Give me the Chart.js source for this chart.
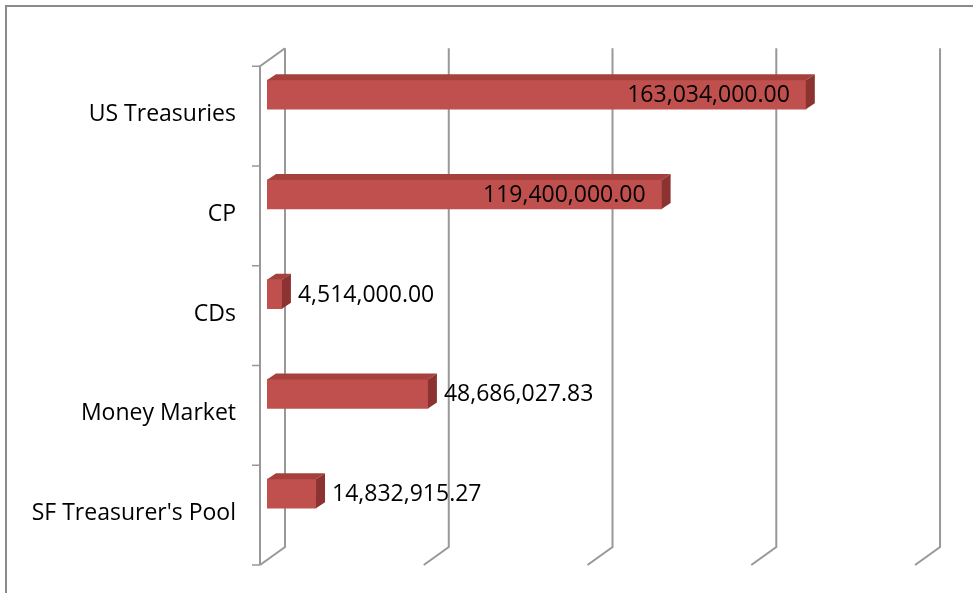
<!DOCTYPE html>
<html>
<head>
<meta charset="utf-8">
<script src="https://cdn.jsdelivr.net/npm/chart.js@4.4.0/dist/chart.umd.min.js"></script>
<style>
  body { margin: 0; background: #fff; overflow: hidden; }
  #frame { position: absolute; left: 5px; top: 5px; width: 1100px; height: 800px;
           border-left: 2px solid #8a8a8a; border-top: 2px solid #8a8a8a; }
  #chart { position: absolute; left: 0; top: 0; }
</style>
</head>
<body>
<div id="frame"></div>
<canvas id="chart" width="973" height="593"></canvas>
<script>
const categories = ["US Treasuries", "CP", "CDs", "Money Market", "SF Treasurer's Pool"];
const holdings = [163034000, 119400000, 4514000, 48686027.83, 14832915.27];
const gridValues = [0, 50000000, 100000000, 150000000, 200000000];

// 3D look, roughly what Excel does
const DEPTH_X = 25, DEPTH_Y = 18;   // front plane -> back wall
const BAR_DX = 9, BAR_DY = 6;       // bar depth
const FRONT_SHIFT = 21.5;           // category bands on the front plane vs bars
const FONT = "'Open Sans', Lato, sans-serif";

const fmt = v => v.toLocaleString("en-US", { minimumFractionDigits: 2, maximumFractionDigits: 2 });

const wallPlugin = {
  id: "wall3d",
  beforeDatasetsDraw(chart) {
    const { ctx } = chart;
    const xs = chart.scales.x, ys = chart.scales.y;
    const half = (ys.getPixelForValue(1) - ys.getPixelForValue(0)) / 2;
    const frontTop = ys.getPixelForValue(0) - half + FRONT_SHIFT;
    const frontBottom = ys.getPixelForValue(categories.length - 1) + half + FRONT_SHIFT;
    const frontLeft = xs.getPixelForValue(0) - 7;
    const backX = v => frontLeft + DEPTH_X + (xs.getPixelForValue(v) - xs.getPixelForValue(0)) * 0.991;

    ctx.save();
    ctx.strokeStyle = "#989898";
    ctx.lineWidth = 2;
    ctx.beginPath();
    gridValues.forEach(v => {
      const bx = backX(v);
      ctx.moveTo(bx, frontTop - DEPTH_Y);
      ctx.lineTo(bx, frontBottom - DEPTH_Y);
      ctx.lineTo(bx - DEPTH_X, frontBottom);
    });
    // left wall front edge and top edge
    ctx.moveTo(frontLeft + DEPTH_X, frontTop - DEPTH_Y);
    ctx.lineTo(frontLeft, frontTop);
    ctx.lineTo(frontLeft, frontBottom);
    ctx.stroke();

    // category tick marks
    ctx.lineWidth = 1.5;
    ctx.beginPath();
    for (let i = 0; i <= categories.length; i++) {
      const y = frontTop + i * half * 2;
      ctx.moveTo(frontLeft - 8, y);
      ctx.lineTo(frontLeft, y);
    }
    ctx.stroke();
    ctx.restore();
  },
  afterDatasetsDraw(chart) {
    const { ctx } = chart;
    const meta = chart.getDatasetMeta(0);
    ctx.save();
    meta.data.forEach((bar, i) => {
      const { x, y, base, height } = bar.getProps(["x", "y", "base", "height"], true);
      const top = y - height / 2, bottom = y + height / 2;
      // top face
      ctx.fillStyle = "#a5403d";
      ctx.beginPath();
      ctx.moveTo(base, top);
      ctx.lineTo(base + BAR_DX, top - BAR_DY);
      ctx.lineTo(x + BAR_DX, top - BAR_DY);
      ctx.lineTo(x, top);
      ctx.closePath();
      ctx.fill();
      // side face
      ctx.fillStyle = "#8c3331";
      ctx.beginPath();
      ctx.moveTo(x, top);
      ctx.lineTo(x + BAR_DX, top - BAR_DY);
      ctx.lineTo(x + BAR_DX, bottom - BAR_DY);
      ctx.lineTo(x, bottom);
      ctx.closePath();
      ctx.fill();

      // value label
      ctx.fillStyle = "#000";
      ctx.font = "23px " + FONT;
      ctx.textBaseline = "middle";
      const txt = fmt(holdings[i]);
      if (holdings[i] > 100000000) {
        ctx.textAlign = "right";
        ctx.fillText(txt, x - 16, y + 1);
      } else {
        ctx.textAlign = "left";
        ctx.fillText(txt, x + BAR_DX + 7, y + 1);
      }
    });
    ctx.restore();
  }
};

new Chart(document.getElementById("chart"), {
  type: "bar",
  data: {
    labels: categories,
    datasets: [{
      data: holdings,
      backgroundColor: "#c0504d",
      borderWidth: 0,
      barThickness: 29
    }]
  },
  options: {
    indexAxis: "y",
    responsive: false,
    animation: false,
    layout: { padding: { left: 0, right: 45, top: 38.5, bottom: 49.5 } },
    plugins: { legend: { display: false }, tooltip: { enabled: false } },
    scales: {
      x: { display: false, min: 0, max: 200000000 },
      y: {
        grid: { display: false, drawTicks: false },
        border: { display: false },
        afterFit(scale) { scale.width = 267; },
        ticks: {
          padding: 31,
          labelOffset: 20,
          color: "#000",
          font: { family: FONT, size: 23 }
        }
      }
    }
  },
  plugins: [wallPlugin]
});
</script>
</body>
</html>
